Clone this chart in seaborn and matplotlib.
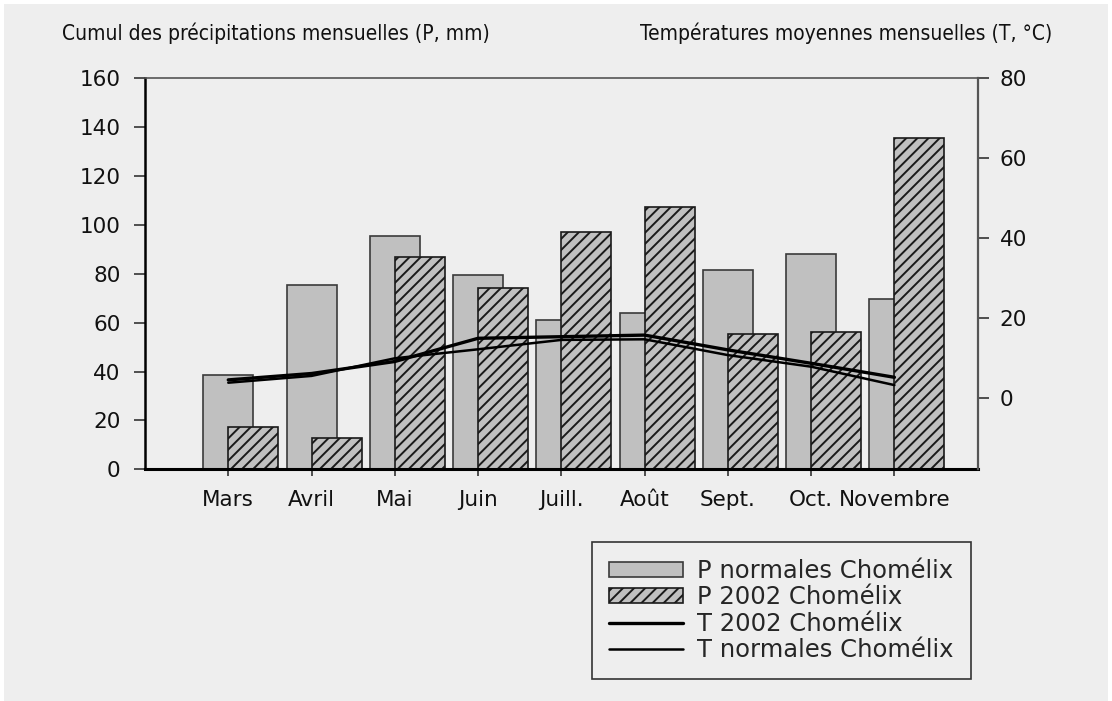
import matplotlib
matplotlib.use("Agg")
import matplotlib.pyplot as plt
import seaborn as sns
import numpy as np
from matplotlib.patches import Patch, Rectangle
from matplotlib.lines import Line2D

months = ["Mars", "Avril", "Mai", "Juin", "Juill.", "Août", "Sept.", "Oct.", "Novembre"]
p_normales = [38.7, 75.5, 95.6, 79.7, 60.9, 63.8, 81.4, 88.0, 69.5]
p_2002 = [17.3, 12.9, 86.9, 74.0, 97.1, 107.4, 55.2, 56.2, 135.6]
t_2002 = [4.6, 6.2, 9.2, 15.0, 15.4, 15.8, 12.1, 8.75, 5.25]
t_normales = [3.9, 5.6, 10.0, 12.25, 14.6, 14.75, 10.8, 7.9, 3.3]
p_ticks = [0, 20, 40, 60, 80, 100, 120, 140, 160]
t_ticks = [0, 20, 40, 60, 80]
legend_labels = ["P normales Chomélix", "P 2002 Chomélix", "T 2002 Chomélix", "T normales Chomélix"]
title_left = "Cumul des précipitations mensuelles (P, mm)"
title_right = "Températures moyennes mensuelles (T, °C)"

sns.set_theme(style="ticks")
plt.rcParams['font.family'] = ['DejaVu Sans']
plt.rcParams['hatch.linewidth'] = 1.4

BG = '#eeeeee'
W, H = 1112, 701
fig = plt.figure(figsize=(W / 100, H / 100), dpi=100, facecolor='white')
fig.patches.append(Rectangle((4 / W, 0), (1108 - 4) / W, (H - 4) / H, transform=fig.transFigure,
                             facecolor=BG, edgecolor='none', zorder=-10))

ax = fig.add_axes([145 / W, 1 - 469.3 / H, (977.7 - 145) / W, (469.3 - 78.3) / H])
ax.set_facecolor(BG)

idx = np.arange(len(months))
sns.barplot(x=idx, y=p_normales, native_scale=True, width=0.6, color='#c0c0c0', saturation=1,
            edgecolor='#3a3a3a', linewidth=1.2, errorbar=None, ax=ax)
sns.barplot(x=idx + 0.3, y=p_2002, native_scale=True, width=0.6, color='#c0c0c0', saturation=1,
            edgecolor='#1a1a1a', linewidth=1.2, hatch='///', errorbar=None, ax=ax)

ax.set_xlim(-1, 9)
ax.set_ylim(0, 160)
ax.set_xticks(idx)
ax.set_xticklabels(months)
ax.set_yticks(p_ticks)
ax.set_xlabel("")
ax.set_ylabel("")

ax.spines['left'].set_color('black'); ax.spines['left'].set_linewidth(1.8)
ax.spines['bottom'].set_color('black'); ax.spines['bottom'].set_linewidth(2.2)
ax.spines['top'].set_visible(True); ax.spines['top'].set_color('#555555'); ax.spines['top'].set_linewidth(1.2)
ax.spines['right'].set_visible(False)

ax.tick_params(axis='y', direction='out', length=7.7, width=1.2, color='#333333', labelsize=15.5,
               pad=10, labelcolor='#111111')
ax.tick_params(axis='x', direction='out', length=5, width=1.2, color='#333333', labelsize=15.5,
               pad=10, labelcolor='#111111')

ax2 = ax.twinx()
sns.lineplot(x=idx, y=t_2002, color='black', linewidth=2.4, ax=ax2)
sns.lineplot(x=idx, y=t_normales, color='black', linewidth=1.8, ax=ax2)
ax2.set_ylim(-17.75, 80)
ax2.set_yticks(t_ticks)
ax2.set_xlim(-1, 9)
for s in ['left', 'top', 'bottom']:
    ax2.spines[s].set_visible(False)
ax2.spines['right'].set_visible(True)
ax2.spines['right'].set_color('#555555'); ax2.spines['right'].set_linewidth(1.6)
ax2.tick_params(axis='y', direction='out', length=7.7, width=1.2, color='#333333', labelsize=15.5,
                pad=8, labelcolor='#111111')

fig.text(62 / W, 1 - 33 / H, title_left, ha='left', va='center', family='DejaVu Sans',
         fontstretch='condensed', fontsize=15, color='#111111')
fig.text(1052 / W, 1 - 33 / H, title_right, ha='right', va='center', family='DejaVu Sans',
         fontstretch='condensed', fontsize=15, color='#111111')

handles = [Patch(facecolor='#c0c0c0', edgecolor='#3a3a3a', linewidth=1.2),
           Patch(facecolor='#c0c0c0', edgecolor='#1a1a1a', linewidth=1.2, hatch='///'),
           Line2D([], [], color='black', linewidth=2.4),
           Line2D([], [], color='black', linewidth=1.8)]
leg = fig.legend(handles, legend_labels, loc='upper left', bbox_to_anchor=(591.7 / W, 1 - 541.7 / H),
                 fontsize=17.5, frameon=True, fancybox=False, framealpha=1, facecolor=BG,
                 edgecolor='#333333', handlelength=3.05, handleheight=0.58, handletextpad=0.58,
                 labelspacing=0.09, borderpad=0.72, borderaxespad=0)
leg.get_frame().set_linewidth(1.2)

fig.savefig("out.png", dpi=100, facecolor=fig.get_facecolor())
